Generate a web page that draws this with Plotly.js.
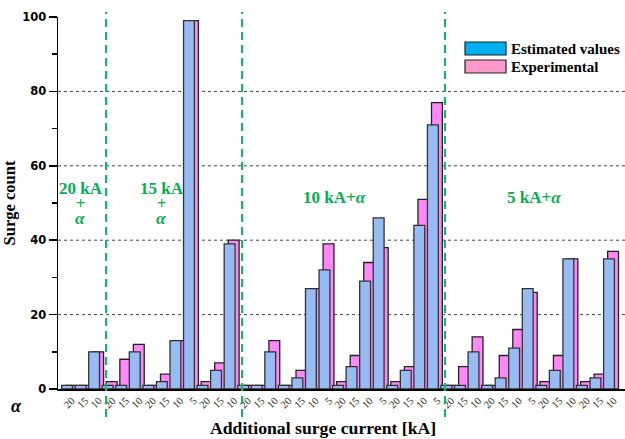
<!DOCTYPE html>
<html>
<head>
<meta charset="utf-8">
<script src="https://cdn.plot.ly/plotly-3.0.1.min.js"></script>
<style>html,body{margin:0;padding:0;background:#fff;}#chart{width:625px;height:439px;}</style>
</head>
<body>
<div id="chart"></div>
<script>
// Category tick labels (alpha, kA)
const alphaLabels = ["20","15","10",
  "20","15","10","20","15","10","5","20","15","10",
  "20","15","10","20","15","10","5","20","15","10","5","20","15","10","5",
  "20","15","10","20","15","10","5","20","15","10","20","15","10"];
// Estimated values (blue)
const estimated = [1,1,10,
  1,1,10,1,2,13,99,1,5,39,
  1,1,10,1,3,27,32,1,6,29,46,1,5,44,71,
  1,1,10,1,3,11,27,1,5,35,1,3,35];
// Experimental values (pink)
const experimental = [1,1,10,
  2,8,12,1,4,13,99,2,7,40,
  1,1,13,1,5,27,39,2,9,34,38,2,6,51,77,
  1,6,14,1,9,16,26,2,9,35,2,4,37];
const sectionLabels = ["20 kA", "15 kA", "10 kA+α", "5 kA+α"];
const seriesNames = ["Estimated values", "Experimental"];

const idx = alphaLabels.map((_, i) => i);
const serif = "Liberation Serif, Times New Roman, serif";
const green = "#00B050";

const pinkTrace = {
  type: "bar", x: idx, y: experimental, name: seriesNames[1],
  width: 0.8, offset: -0.1,
  marker: {color: "#FF88F6", line: {color: "#222", width: 1.3}},
  showlegend: false, hoverinfo: "x+y"
};
const blueTrace = {
  type: "bar", x: idx, y: estimated, name: seriesNames[0],
  width: 0.8, offset: -0.4,
  marker: {color: "#97BCF4", line: {color: "#333", width: 1.3}},
  showlegend: false, hoverinfo: "x+y"
};

const L = 58, R = 625, T = 17, B = 389;
const px = v => (v - L) / (R - L);
const py = v => (B - v) / (B - T);

const shapes = [];
[20, 40, 60, 80].forEach(g => shapes.push({
  type: "line", xref: "paper", yref: "y", x0: 0, x1: 1, y0: g, y1: g,
  layer: "below", line: {color: "#444", width: 1, dash: "3px,3px"}
}));
[106, 242, 445].forEach(xp => shapes.push({
  type: "line", xref: "paper", yref: "paper", x0: px(xp), x1: px(xp), y0: py(417), y1: py(12),
  layer: "above", line: {color: "#00C060", width: 2, dash: "8px,5px"}
}));
// legend swatches
shapes.push({type: "rect", xref: "paper", yref: "paper", x0: px(465), x1: px(506), y0: py(55), y1: py(42),
  fillcolor: "#00B0F0", line: {color: "#222", width: 1.2}});
shapes.push({type: "rect", xref: "paper", yref: "paper", x0: px(465), x1: px(506), y0: py(73), y1: py(60),
  fillcolor: "#FF99CC", line: {color: "#222", width: 1.2}});

const ann = [];
const txt = (x, y, t, size, color, anchor, h) => {
  const a = {
    xref: "paper", yref: "paper", x: px(x), y: py(y), text: t, showarrow: false,
    xanchor: anchor || "center", yanchor: "middle",
    font: {family: serif, size: size, color: color, weight: 700}
  };
  if (h) a.height = h;
  ann.push(a);
};
txt(509, 49, "<b>" + seriesNames[0] + "</b>", 15, "#000", "left");
txt(509, 67, "<b>" + seriesNames[1] + "</b>", 15, "#000", "left");
txt(81, 188, "<b>" + sectionLabels[0] + "</b>", 17, green, null, 13);
txt(80, 203, "<b>+</b>", 16, green, null, 13);
txt(80, 218, "<b><i>α</i></b>", 17, green, null, 13);
txt(162, 188, "<b>" + sectionLabels[1] + "</b>", 17, green, null, 13);
txt(161, 203, "<b>+</b>", 16, green, null, 13);
txt(161, 218, "<b><i>α</i></b>", 17, green, null, 13);
txt(334, 197, "<b>" + sectionLabels[2].replace("α", "<i>α</i>") + "</b>", 17, green);
txt(534, 197, "<b>" + sectionLabels[3].replace("α", "<i>α</i>") + "</b>", 17, green);
txt(16, 406, "<b><i>α</i></b>", 18, "#000");
// x-axis title
txt(323, 428, "<b>Additional surge current [kA]</b>", 17.7, "#000");

const layout = {
  width: 625, height: 439,
  margin: {l: L, r: 625 - R, t: T, b: 439 - B, pad: 0},
  paper_bgcolor: "#fff", plot_bgcolor: "#fff",
  barmode: "overlay", showlegend: false,
  xaxis: {
    range: [-0.664, 41.18], tickmode: "array",
    tickvals: idx.map(i => i + 0.35), ticktext: alphaLabels,
    tickangle: -45, tickfont: {family: serif, size: 10.5, color: "#222"},
    ticks: "", showgrid: false, zeroline: false,
    showline: true, linecolor: "#000", linewidth: 1.5
  },
  yaxis: {
    range: [0, 100], tickmode: "linear", tick0: 0, dtick: 20,
    ticks: "outside", ticklen: 8, tickwidth: 1.5, tickcolor: "#000",
    minor: {dtick: 10, ticks: "outside", ticklen: 5, tickwidth: 1.5, tickcolor: "#000", showgrid: false},
    tickfont: {family: "DejaVu Sans, sans-serif", size: 11.5, color: "#000", weight: 700},
    showgrid: false, zeroline: false,
    showline: true, linecolor: "#000", linewidth: 1.5,
    title: {text: "<b>Surge count</b>", standoff: 10,
      font: {family: serif, size: 16.5, color: "#000"}}
  },
  shapes: shapes, annotations: ann
};

Plotly.newPlot("chart", [pinkTrace, blueTrace], layout, {displayModeBar: false, staticPlot: true});
</script>
</body>
</html>
